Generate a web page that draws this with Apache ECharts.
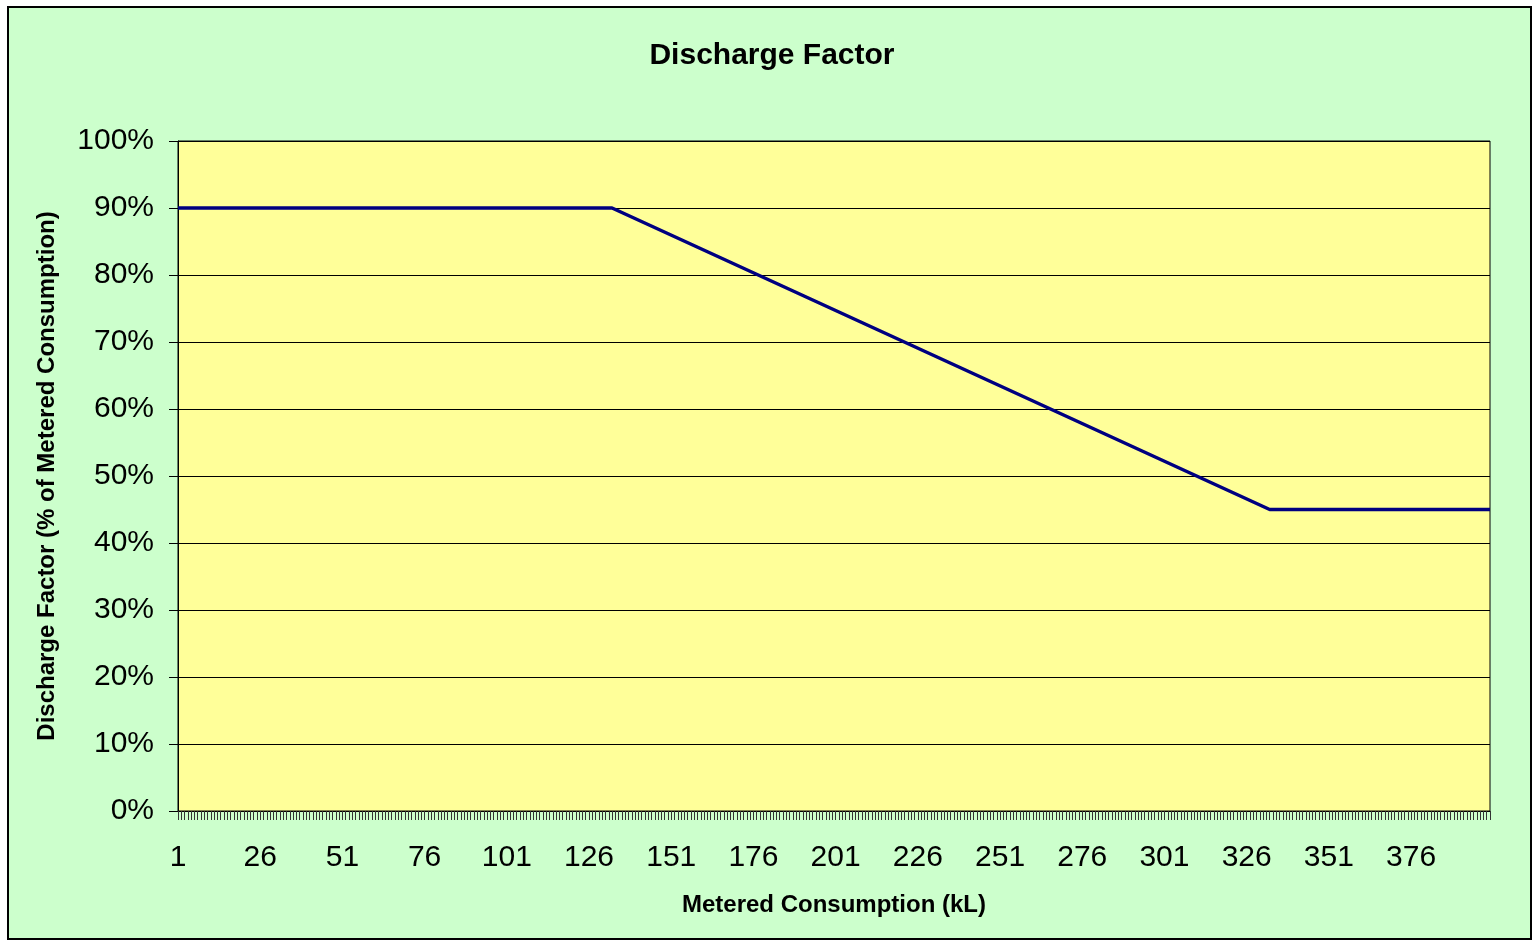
<!DOCTYPE html>
<html>
<head>
<meta charset="utf-8">
<script src="https://cdn.jsdelivr.net/npm/echarts@6/dist/echarts.min.js"></script>
<style>
html,body{margin:0;padding:0;background:#ffffff;}
#chart{width:1535px;height:940px;}
</style>
</head>
<body>
<div id="chart"></div>
<script>
// Category labels: metered consumption (kL), 1..400
const categories = Array.from({length: 400}, (_, i) => String(i + 1));
// Breakpoints of the discharge factor line
const lineX = ['1', '133', '333', '400'];
const lineY = [0.90, 0.90, 0.45, 0.45];
const yTickLabels = ['0%','10%','20%','30%','40%','50%','60%','70%','80%','90%','100%'];

const chart = echarts.init(document.getElementById('chart'), null, {renderer: 'canvas'});
const font = 'Liberation Sans, Arial, sans-serif';

chart.setOption({
  backgroundColor: '#ffffff',
  animation: false,
  graphic: [{
    type: 'rect',
    z: -10,
    shape: {x: 8, y: 7, width: 1523, height: 932},
    style: {fill: '#CCFFCC', stroke: '#000000', lineWidth: 2}
  }],
  title: {
    text: 'Discharge Factor',
    left: 767,
    textAlign: 'center',
    top: 36,
    textStyle: {fontFamily: font, fontSize: 30, fontWeight: 'bold', color: '#000'}
  },
  grid: {
    left: 178, top: 141, width: 1312, height: 670,
    show: true, backgroundColor: '#FFFF99', borderColor: '#000', borderWidth: 1,
    containLabel: false
  },
  xAxis: {
    type: 'category',
    data: categories,
    boundaryGap: false,
    name: 'Metered Consumption (kL)',
    nameLocation: 'middle',
    nameGap: 82,
    nameTextStyle: {fontFamily: font, fontSize: 24, fontWeight: 'bold', color: '#000'},
    axisLine: {show: true, lineStyle: {color: '#000', width: 1}},
    axisTick: {show: true, interval: 0, length: 9, inside: false, lineStyle: {color: '#333', width: 1}},
    axisLabel: {interval: 24, margin: 32, fontFamily: font, fontSize: 30, color: '#000'},
    splitLine: {show: false}
  },
  yAxis: {
    type: 'value',
    min: 0, max: 1, interval: 0.1,
    name: 'Discharge Factor (% of Metered Consumption)',
    nameLocation: 'middle',
    nameGap: 119,
    nameTextStyle: {fontFamily: font, fontSize: 24, fontWeight: 'bold', color: '#000'},
    axisLine: {show: true, lineStyle: {color: '#000', width: 1}},
    axisTick: {show: true, length: 9, lineStyle: {color: '#000', width: 1}},
    axisLabel: {
      margin: 24, fontFamily: font, fontSize: 30, color: '#000',
      formatter: (v) => yTickLabels[Math.round(v * 10)]
    },
    splitLine: {show: true, lineStyle: {color: '#000', width: 1}}
  },
  series: [{
    type: 'line',
    data: lineX.map((c, i) => [c, lineY[i]]),
    showSymbol: false,
    symbol: 'none',
    lineStyle: {color: '#000080', width: 3.5},
    itemStyle: {color: '#000080'}
  }]
});
</script>
</body>
</html>
